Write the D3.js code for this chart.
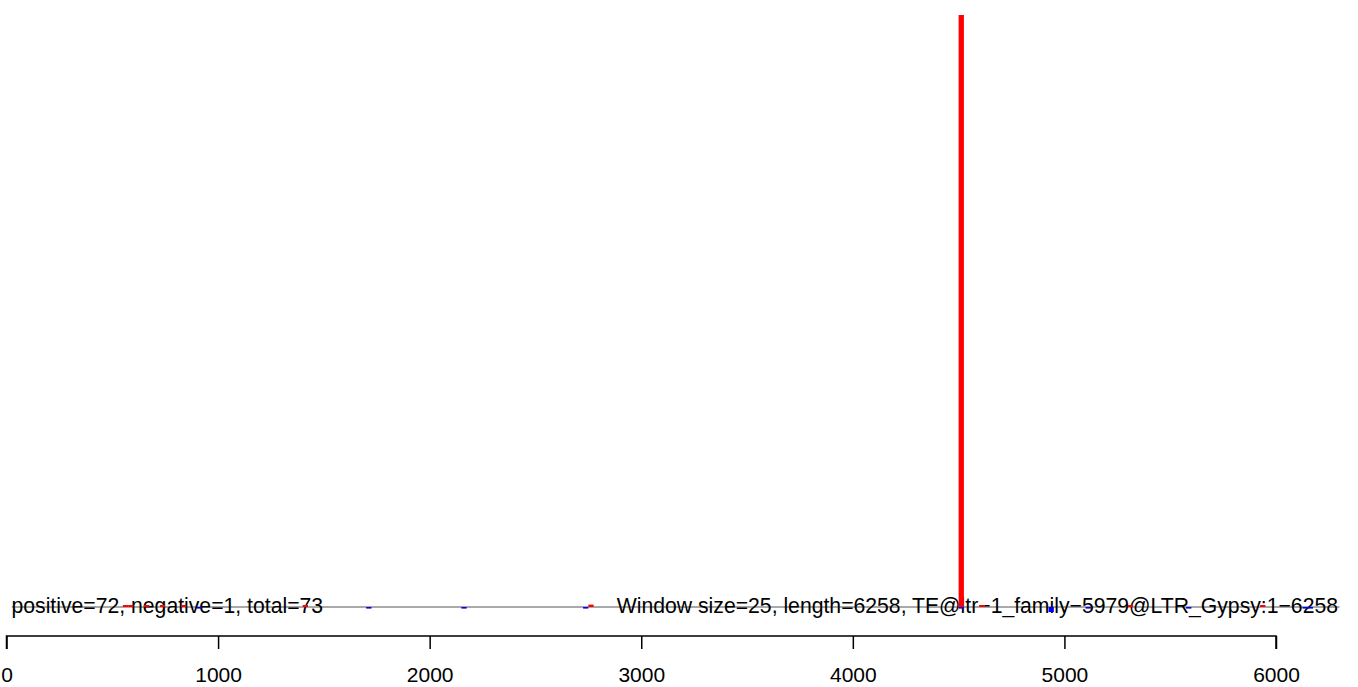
<!DOCTYPE html>
<html>
<head>
<meta charset="utf-8">
<script src="https://cdn.jsdelivr.net/npm/d3@7"></script>
<style>
  html, body { margin: 0; padding: 0; background: #fff; }
  svg { display: block; }
  text { font-family: "Liberation Sans", Arial, sans-serif; }
</style>
</head>
<body>
<script>
// ---- data ----
const windowSize = 25;
const seqLength = 6258;
const axisTicks = [0, 1000, 2000, 3000, 4000, 5000, 6000];
const posStarts = [550, 575, 650, 725, 825, 1400, 2750, 4500, 4600, 5300, 5925];
const posValues = [1, 1, 1, 1, 1, 1, 1.2, 296, 1, 1, 1];
const negStarts = [900, 1700, 2150, 2725, 4500, 4925, 5100, 5575, 6125, 6150];
const negValues = [0.8, 0.8, 0.8, 0.8, 0.8, 2.5, 0.8, 0.8, 0.8, 0.8];
const baselineRange = [25, 6300];
const leftLabel = "positive=72, negative=1, total=73";
const rightLabel = "Window size=25, length=6258, TE@ltr\u22121_family\u22125979@LTR_Gypsy:1\u22126258";

// ---- layout ----
const W = 1358, H = 687;
const svg = d3.select("body").append("svg").attr("width", W).attr("height", H);

const x = d3.scaleLinear().domain([0, 6000]).range([6.5, 1276]);
const y = d3.scaleLinear().domain([0, 296]).range([607, 15]);

// baseline
svg.append("line")
  .attr("x1", x(baselineRange[0])).attr("x2", x(baselineRange[1]))
  .attr("y1", y(0)).attr("y2", y(0))
  .attr("stroke", "#8c8c8c").attr("stroke-width", 1.5);

// labels
svg.append("text").attr("x", 11.5).attr("y", 612.5)
  .attr("font-size", 21.2).attr("fill", "#000").text(leftLabel);
svg.append("text").attr("x", 1338).attr("y", 612.5)
  .attr("text-anchor", "end")
  .attr("font-size", 21.2).attr("fill", "#000").text(rightLabel);

// positive (red, above)
svg.selectAll("rect.pos").data(posStarts.map((s, i) => ({s, v: posValues[i]})))
  .join("rect").attr("class", "pos")
  .attr("x", d => x(d.s)).attr("width", d => x(d.s + windowSize) - x(d.s))
  .attr("y", d => y(d.v)).attr("height", d => y(0) - y(d.v))
  .attr("fill", "#ff0000");

// negative (blue, below)
svg.selectAll("rect.neg").data(negStarts.map((s, i) => ({s, v: negValues[i]})))
  .join("rect").attr("class", "neg")
  .attr("x", d => x(d.s)).attr("width", d => x(d.s + windowSize) - x(d.s))
  .attr("y", y(0)).attr("height", d => y(-d.v) - y(0))
  .attr("fill", "#0000ff");

// axis
const axis = d3.axisBottom(x).tickValues(axisTicks).tickSize(13).tickPadding(18)
  .tickFormat(d3.format("d"));
const g = svg.append("g").attr("transform", "translate(0,636)").call(axis);
g.select(".domain").attr("stroke", "#000").attr("stroke-width", 1.5)
  .attr("d", `M${x(0)},13V0H${x(6000)}V13`);
g.selectAll(".tick line").attr("stroke", "#000").attr("stroke-width", 1.5);
g.selectAll(".tick text").attr("font-size", 21).attr("fill", "#000")
  .attr("font-family", "Liberation Sans, Arial, sans-serif");
</script>
</body>
</html>
